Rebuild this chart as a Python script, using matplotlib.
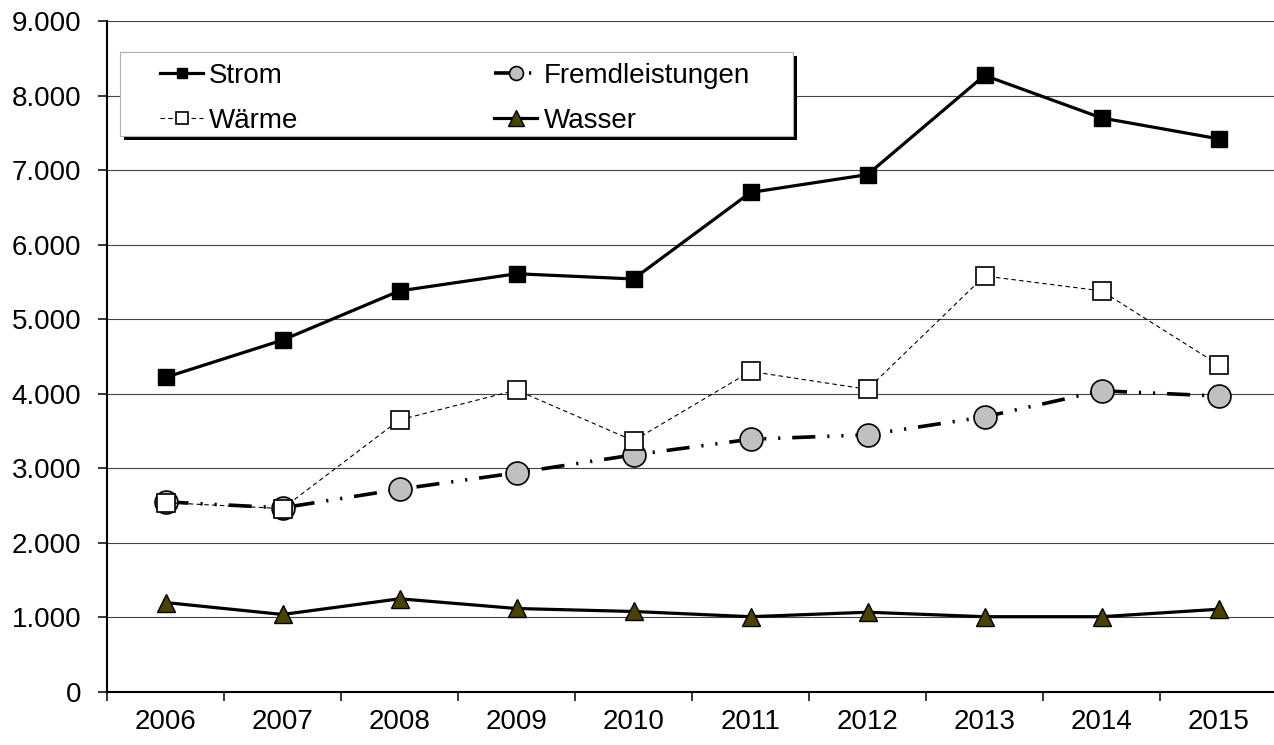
import matplotlib
matplotlib.use('Agg')
import numpy as np
from matplotlib import pyplot as plt
from matplotlib.lines import Line2D
from matplotlib.patches import Rectangle
from matplotlib.ticker import FuncFormatter

# values
years = ['2006', '2007', '2008', '2009', '2010', '2011', '2012', '2013', '2014', '2015']
strom = [4220, 4720, 5380, 5610, 5540, 6700, 6940, 8270, 7700, 7420]
waerme = [2540, 2460, 3650, 4050, 3370, 4300, 4060, 5580, 5380, 4390]
fremd = [2550, 2470, 2720, 2940, 3180, 3390, 3450, 3690, 4040, 3970]
wasser = [1200, 1040, 1250, 1120, 1080, 1010, 1070, 1010, 1010, 1110]

W, H = 1274, 745
plt.rcParams['font.family'] = ['Liberation Sans', 'DejaVu Sans']

fig = plt.figure(figsize=(W / 100, H / 100), dpi=100)
# axes box in pixels: left 107, right 1277, top 21, bottom 692
ax = fig.add_axes([107 / W, 1 - 692 / H, 1170 / W, 671 / H])

x = np.arange(len(years))

st_fremd = dict(color='black', lw=2.6, dashes=(6.4, 3.3, 0.6, 3.3, 0.6, 3.3),
                marker='o', mfc='#c0c0c0', mec='black', mew=1.2)
st_waerme = dict(color='black', lw=0.8, dashes=(4, 3),
                 marker='s', mfc='white', mec='black', mew=1.2)
st_strom = dict(color='black', lw=2.3, marker='s', mfc='black', mec='black', mew=1)
st_wasser = dict(color='black', lw=2.3, marker='^', mfc='#4a4200', mec='black', mew=1)

ax.plot(x, fremd, ms=16.5, zorder=3, **st_fremd)
ax.plot(x, waerme, ms=13, zorder=4, **st_waerme)
ax.plot(x, strom, ms=11, zorder=4, **st_strom)
ax.plot(x, wasser, ms=13.5, zorder=4, **st_wasser)

ax.set_xlim(-0.5, len(years) - 0.5)
ax.set_ylim(0, 9000)
ax.set_yticks(np.arange(0, 9001, 1000))
ax.yaxis.set_major_formatter(FuncFormatter(lambda v, p: f'{int(v):,}'.replace(',', '.')))
ax.tick_params(axis='y', direction='out', length=6.5, width=1.1, pad=12, labelsize=20)

ax.set_xticks(np.arange(-0.5, len(years), 1))
ax.set_xticklabels([])
ax.set_xticks(x, minor=True)
ax.set_xticklabels(years, minor=True)
ax.tick_params(axis='x', which='major', direction='out', length=6.5, width=1.1)
ax.tick_params(axis='x', which='minor', length=0, pad=12, labelsize=20)

ax.grid(axis='y', color='#444444', lw=0.8)
ax.set_axisbelow(True)
for s in ['top', 'right']:
    ax.spines[s].set_visible(False)
for s in ['left', 'bottom']:
    ax.spines[s].set_linewidth(1.5)

# legend box with hard shadow
def fx(px):
    return px / W

def fy(py):
    return 1 - py / H

fig.add_artist(Rectangle((fx(124), fy(140)), fx(673), 84 / H, transform=fig.transFigure,
                         facecolor='black', edgecolor='none', zorder=2))
fig.add_artist(Rectangle((fx(120), fy(136)), fx(673), 84 / H, transform=fig.transFigure,
                         facecolor='white', edgecolor='#b0b0b0', lw=0.8, zorder=3))

# legend markers are smaller than in the plot
handles = [Line2D([], [], ms=7.5, **st_strom), Line2D([], [], ms=8, **st_waerme),
           Line2D([], [], ms=10, **st_fremd), Line2D([], [], ms=12, **st_wasser)]
fig.legend(handles, ['Strom', 'Wärme', 'Fremdleistungen', 'Wasser'],
           loc='upper left', bbox_to_anchor=(fx(160), fy(63)), borderaxespad=0,
           borderpad=0, frameon=False, ncol=2, fontsize=20, handlelength=1.55,
           handletextpad=0.22, columnspacing=7.05, labelspacing=0.69, numpoints=1)

fig.savefig('out.png', dpi=100)
